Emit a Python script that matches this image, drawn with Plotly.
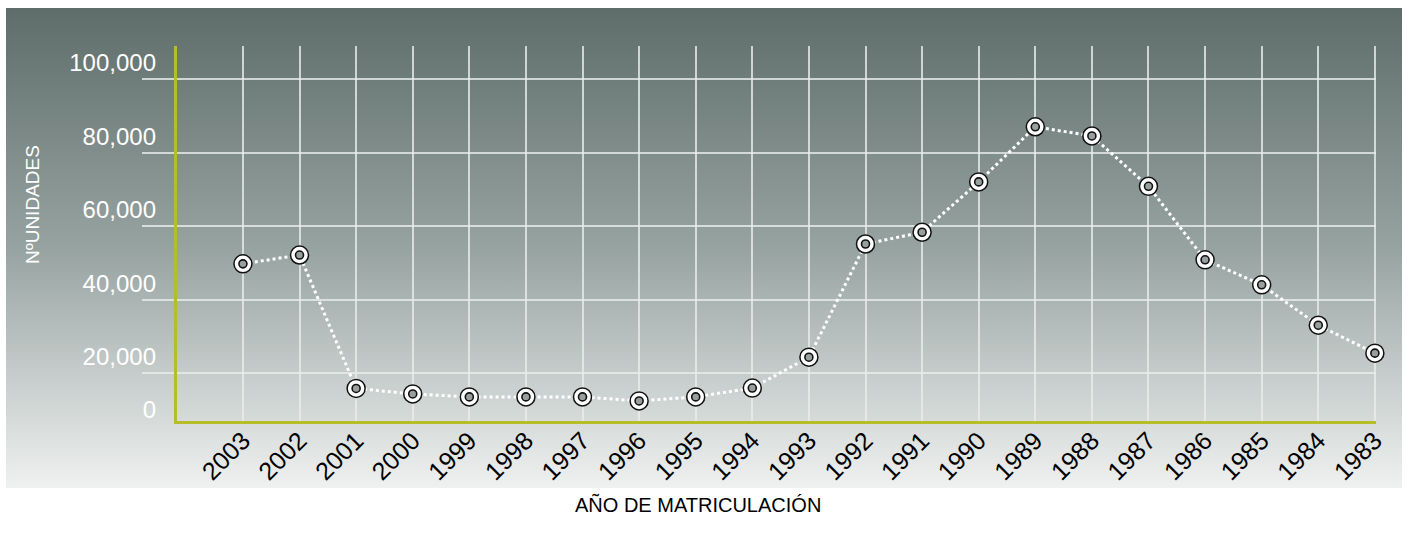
import base64
import plotly.graph_objects as go

# ---- data ----
years = ["2003", "2002", "2001", "2000", "1999", "1998", "1997", "1996", "1995", "1994",
         "1993", "1992", "1991", "1990", "1989", "1988", "1987", "1986", "1985", "1984", "1983"]
units = [49700, 52100, 15800, 14300, 13500, 13500, 13500, 12400, 13500, 15900,
         24300, 55100, 58300, 72000, 87000, 84500, 70800, 50800, 44000, 33000, 25400]
grid_vals = [20000, 40000, 60000, 80000, 100000]
y_label_text = ["0", "20,000", "40,000", "60,000", "80,000", "100,000"]

W, H = 1409, 539
ML, MR, MT, MB = 177, 33, 46, 118
PW, PH = W - ML - MR, H - MT - MB
Y_MIN, Y_MAX = 6939, 108980
upp = (Y_MAX - Y_MIN) / PH  # units per pixel
LIFT = 16 * upp
y_label_pos = [Y_MIN + 11 * upp] + [v + LIFT for v in grid_vals]

GRID = "rgba(232,236,235,0.8)"
AXIS = "#b7bd26"
FONT = "Liberation Sans, Arial, Helvetica, sans-serif"

def px_x(p):
    return (p - ML) / PW

def px_y(p):
    return (H - MB - p) / PH

svg = ('<svg xmlns="http://www.w3.org/2000/svg" width="100" height="100" viewBox="0 0 100 100" '
       'preserveAspectRatio="none"><defs><linearGradient id="g" x1="0" y1="0" x2="0" y2="1">'
       '<stop offset="0" stop-color="#5e6d6a"/><stop offset="0.5" stop-color="#97a3a1"/>'
       '<stop offset="1" stop-color="#eff1f0"/></linearGradient></defs>'
       '<rect width="100" height="100" fill="url(#g)"/></svg>')
src = "data:image/svg+xml;base64," + base64.b64encode(svg.encode()).decode()

fig = go.Figure()
fig.add_trace(go.Scatter(
    x=years, y=units, mode="lines+markers",
    line=dict(color="white", width=3, dash="dot"),
    marker=dict(size=18, color="white", line=dict(color="#111", width=1.5)),
    cliponaxis=False, showlegend=False, hoverinfo="skip"))
fig.add_trace(go.Scatter(
    x=years, y=units, mode="markers", yaxis="y2",
    marker=dict(size=8, color="#97a09e", line=dict(color="#111", width=1.6)),
    cliponaxis=False, showlegend=False, hoverinfo="skip"))

fig.update_layout(
    width=W, height=H,
    margin=dict(l=ML, r=MR, t=MT, b=MB),
    paper_bgcolor="white", plot_bgcolor="rgba(0,0,0,0)",
    font=dict(family=FONT),
    images=[dict(source=src, xref="paper", yref="paper",
                 x=px_x(6), y=px_y(8), sizex=1396 / PW, sizey=480 / PH,
                 xanchor="left", yanchor="top", sizing="stretch", layer="below")],
    xaxis=dict(type="category", categoryorder="array", categoryarray=years,
               range=[-1.165, 20.02], showgrid=True, gridcolor=GRID, gridwidth=1.5,
               showline=True, linecolor=AXIS, linewidth=3, ticks="",
               tickangle=-45, ticklabelstandoff=-8,
               tickfont=dict(size=25, color="black", family=FONT),
               zeroline=False, fixedrange=True),
    yaxis=dict(range=[Y_MIN, Y_MAX], tickvals=grid_vals, showticklabels=False,
               showgrid=True, gridcolor=GRID, gridwidth=1.5,
               ticks="outside", ticklen=32, tickcolor=GRID, tickwidth=1.5,
               showline=True, linecolor=AXIS, linewidth=3, zeroline=False),
    yaxis2=dict(range=[Y_MIN, Y_MAX], overlaying="y", side="left", anchor="x",
                tickvals=y_label_pos, ticktext=y_label_text, showgrid=False,
                ticks="", ticklabelstandoff=20, zeroline=False, showline=False,
                tickfont=dict(size=24, color="white", family=FONT)),
    annotations=[
        dict(text="NºUNIDADES", textangle=-90, xref="paper", yref="paper",
             x=px_x(32), y=px_y(205), showarrow=False, xanchor="center", yanchor="middle",
             font=dict(size=19, color="white", family=FONT)),
        dict(text="AÑO DE MATRICULACIÓN", xref="paper", yref="paper",
             x=px_x(698), y=px_y(504), showarrow=False, xanchor="center", yanchor="middle",
             font=dict(size=20, color="black", family=FONT)),
    ],
)

fig.write_html("out.html")
